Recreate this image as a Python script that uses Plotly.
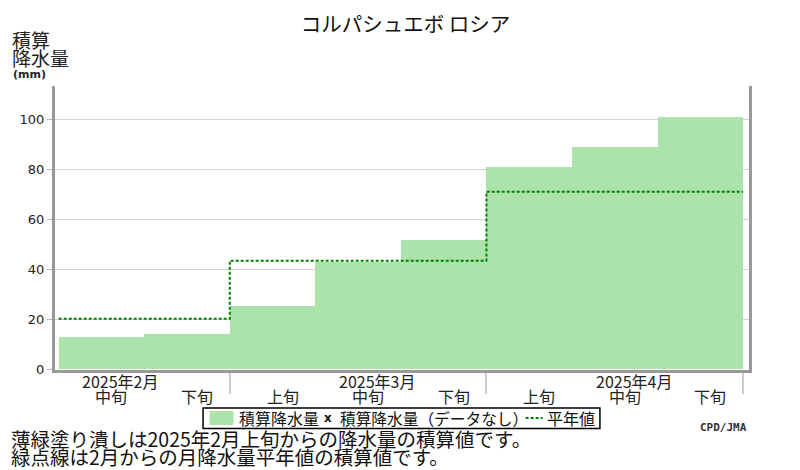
import plotly.graph_objects as go
import numpy as np

# Data (Kolpashevo, Russia)
station_name = "コルパシュエボ ロシア"
dekad_labels = ["中旬", "下旬", "上旬", "中旬", "下旬", "上旬", "中旬", "下旬"]
month_labels = ["2025年2月", "2025年3月", "2025年4月"]
month_dekad_counts = [2, 3, 3]          # dekads of each month shown on the chart
month_label_dekad = [0, 3, 6]           # dekad index under which the month label sits
cum_precip = [12.9, 14.1, 25.3, 42.9, 51.7, 80.9, 88.9, 100.9]   # mm
normal_cum = [20.2, 43.4, 71.0]                                   # mm, per month
y_ticks = [0, 20, 40, 60, 80, 100]

note_lines = [
    "薄緑塗り潰しは2025年2月上旬からの降水量の積算値です。",
    "緑点線は2月からの月降水量平年値の積算値です。",
]

FONT_JP = "Noto Sans CJK JP"
BAR_COLOR = "#abe3ab"
NORMAL_COLOR = "#008000"

# the page body has an 8px margin, so the figure is 8px smaller than the window
OFF = 8
W, H = 800 - OFF, 470 - OFF
# plot area edges in window pixels
PL, PR, PT, PB = 53, 749, 86, 370
L, R, T, B = PL - OFF, W - (PR - OFF), PT - OFF, H - (PB - OFF)
PW, PH = PR - PL, PB - PT


def px(x):
    # window pixel x -> paper coordinate
    return (x - PL) / PW


def py(y):
    # window pixel y -> paper coordinate
    return (PB - y) / PH


def main():
    idx = list(range(len(cum_precip)))
    bounds = list(-0.5 + np.cumsum([0] + month_dekad_counts))
    step_y = normal_cum + [normal_cum[-1]]

    fig = go.Figure()
    fig.add_trace(go.Bar(x=idx, y=cum_precip, width=1, marker_color=BAR_COLOR,
                         marker_line_width=0, name="積算降水量"))
    fig.add_trace(go.Scatter(x=bounds, y=step_y, mode="lines", name="平年値",
                             line=dict(color=NORMAL_COLOR, width=2, dash="3px,2px", shape="hv")))

    annotations = []
    # dekad labels under the bars
    for i, lab in enumerate(dekad_labels):
        annotations.append(dict(x=i, y=py(396), xref="x", yref="paper", text=lab, showarrow=False,
                                xshift=10, yanchor="middle", font=dict(family=FONT_JP, size=16, color="#222")))
    for i, lab in zip(month_label_dekad, month_labels):
        annotations.append(dict(x=i, y=py(381), xref="x", yref="paper", text=lab, showarrow=False,
                                xshift=19, yanchor="middle", font=dict(family=FONT_JP, size=16, color="#222")))

    # y axis title
    annotations.append(dict(x=px(8), y=py(39), xref="paper", yref="paper", text="積算", showarrow=False,
                            xanchor="left", yanchor="middle", font=dict(family=FONT_JP, size=19, color="#222")))
    annotations.append(dict(x=px(8), y=py(58), xref="paper", yref="paper", text="降水量", showarrow=False,
                            xanchor="left", yanchor="middle", font=dict(family=FONT_JP, size=19, color="#222")))
    annotations.append(dict(x=px(9), y=py(74), xref="paper", yref="paper", text="<b>(mm)</b>", showarrow=False,
                            xanchor="left", yanchor="middle", font=dict(family="DejaVu Sans", size=11, color="#222")))

    # hand-made legend
    leg_y = py(418)
    annotations.append(dict(x=px(236), y=leg_y, xref="paper", yref="paper", text="積算降水量", showarrow=False,
                            xanchor="left", yanchor="middle", font=dict(family=FONT_JP, size=16, color="#111")))
    annotations.append(dict(x=px(327), y=leg_y, xref="paper", yref="paper", text="<b>x</b>", showarrow=False,
                            xanchor="center", yanchor="middle", font=dict(family="DejaVu Sans", size=12, color="#111")))
    annotations.append(dict(x=px(337), y=leg_y, xref="paper", yref="paper", text="積算降水量（データなし）",
                            showarrow=False, xanchor="left", yanchor="middle",
                            font=dict(family=FONT_JP, size=15.7, color="#111")))
    annotations.append(dict(x=px(544), y=leg_y, xref="paper", yref="paper", text="平年値", showarrow=False,
                            xanchor="left", yanchor="middle", font=dict(family=FONT_JP, size=16, color="#111")))

    # notes and credit
    for ln, yy in zip(note_lines, [438, 456]):
        annotations.append(dict(x=px(8), y=py(yy), xref="paper", yref="paper", text=ln, showarrow=False,
                                xanchor="left", yanchor="middle", borderpad=0,
                                font=dict(family=FONT_JP, size=19.5, color="#111")))
    annotations.append(dict(x=px(749), y=py(427), xref="paper", yref="paper", text="<b>CPD/JMA</b>",
                            showarrow=False, xanchor="right", yanchor="middle",
                            font=dict(family="DejaVu Sans Mono", size=11, color="#333")))

    shapes = [
        dict(type="rect", xref="paper", yref="paper", x0=px(201.5), x1=px(599.5), y0=py(408), y1=py(428.5),
             line=dict(color="#000", width=1.5), fillcolor="rgba(0,0,0,0)"),
        dict(type="rect", xref="paper", yref="paper", x0=px(208), x1=px(232), y0=py(411), y1=py(425),
             line=dict(width=0), fillcolor=BAR_COLOR),
        dict(type="line", xref="paper", yref="paper", x0=px(525), x1=px(542), y0=leg_y, y1=leg_y,
             line=dict(color=NORMAL_COLOR, width=2, dash="3px,2px")),
    ]

    fig.update_layout(
        width=W, height=H,
        margin=dict(l=L, r=R, t=T, b=B),
        paper_bgcolor="white", plot_bgcolor="white",
        showlegend=False,
        title=dict(text=station_name, x=(405.5 - OFF) / W, xref="container", xanchor="center",
                   y=1 - (25 - OFF) / H, yref="container", yanchor="middle",
                   font=dict(family=FONT_JP, size=20.5, color="#111")),
        annotations=annotations,
        shapes=shapes,
        bargap=0,
    )
    fig.update_xaxes(range=[-0.543, 7.569], tickvals=bounds[1:], showticklabels=False,
                     ticks="outside", ticklen=21, tickcolor="#cccccc", tickwidth=1.5,
                     showgrid=False, zeroline=False, showline=True, linecolor="#999999", linewidth=3)
    fig.update_yaxes(range=[-0.3, 113.3], tickvals=y_ticks, ticks="outside", ticklen=5,
                     tickcolor="#bbbbbb", tickfont=dict(family="DejaVu Sans", size=13, color="#222"),
                     showgrid=True, gridcolor="#d3d3d3", gridwidth=1, zeroline=False,
                     showline=True, mirror=True, linecolor="#999999", linewidth=3)

    fig.write_html("out.html")


if __name__ == "__main__":
    main()
